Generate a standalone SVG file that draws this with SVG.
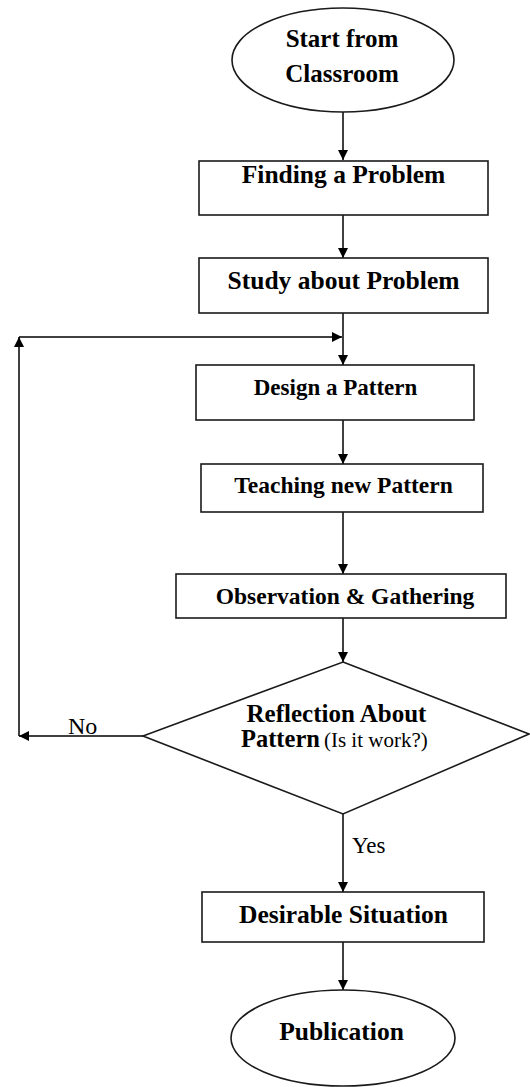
<svg xmlns="http://www.w3.org/2000/svg" width="530" height="1087" viewBox="0 0 530 1087">
  <style>
    .shape { fill: #ffffff; stroke: #1a1a1a; stroke-width: 1.6; }
    .conn { fill: none; stroke: #000000; stroke-width: 1.5; }
    .lbl { font-family: "Liberation Serif", "Times New Roman", serif; font-weight: bold; fill: #000000; text-anchor: middle; }
    .reg { font-family: "Liberation Serif", "Times New Roman", serif; font-weight: normal; fill: #000000; }
  </style>
  <defs>
    <marker id="arr" markerUnits="userSpaceOnUse" markerWidth="11" markerHeight="10" refX="10" refY="5" orient="auto">
      <path d="M0,0 L10,5 L0,10 z" fill="#000000"/>
    </marker>
  </defs>
  <rect width="530" height="1087" fill="#ffffff"/>

  <g id="connectors">
    <line class="conn" x1="343" y1="112" x2="343" y2="160" marker-end="url(#arr)"/>
    <line class="conn" x1="343" y1="215" x2="343" y2="258" marker-end="url(#arr)"/>
    <line class="conn" x1="343" y1="313" x2="343" y2="365" marker-end="url(#arr)"/>
    <line class="conn" x1="343" y1="420" x2="343" y2="464" marker-end="url(#arr)"/>
    <line class="conn" x1="343" y1="512" x2="343" y2="574" marker-end="url(#arr)"/>
    <line class="conn" x1="343" y1="618" x2="343" y2="662" marker-end="url(#arr)"/>
    <line class="conn" x1="343" y1="814" x2="343" y2="892" marker-end="url(#arr)"/>
    <line class="conn" x1="343" y1="942" x2="343" y2="990" marker-end="url(#arr)"/>
    <line class="conn" x1="143" y1="736" x2="19" y2="736" marker-end="url(#arr)"/>
    <line class="conn" x1="19" y1="736" x2="19" y2="337" marker-end="url(#arr)"/>
    <line class="conn" x1="19" y1="337" x2="342" y2="337" marker-end="url(#arr)"/>
    <text class="reg" x="68" y="734" font-size="24">No</text>
    <text class="reg" x="352" y="853" font-size="23">Yes</text>
  </g>

  <g id="start">
    <ellipse class="shape" cx="343" cy="60" rx="111" ry="52"/>
    <text class="lbl" x="342" y="47" font-size="25">Start from</text>
    <text class="lbl" x="342" y="82" font-size="25">Classroom</text>
  </g>

  <g id="finding">
    <rect class="shape" x="199" y="161" width="289" height="54"/>
    <text class="lbl" x="343.5" y="183" font-size="25.5">Finding a Problem</text>
  </g>

  <g id="study">
    <rect class="shape" x="199" y="258" width="289" height="55"/>
    <text class="lbl" x="343.5" y="289" font-size="25.5">Study about Problem</text>
  </g>

  <g id="design">
    <rect class="shape" x="196" y="365" width="278" height="55"/>
    <text class="lbl" x="335.5" y="395" font-size="23">Design a Pattern</text>
  </g>

  <g id="teaching">
    <rect class="shape" x="201" y="464" width="282" height="48"/>
    <text class="lbl" x="343.5" y="493" font-size="23.5">Teaching new Pattern</text>
  </g>

  <g id="observation">
    <rect class="shape" x="176" y="574" width="330" height="44"/>
    <text class="lbl" x="345" y="604" font-size="23.5">Observation &amp; Gathering</text>
  </g>

  <g id="reflection">
    <polygon class="shape" points="343,662 529,734 343,814 143,736"/>
    <text class="lbl" x="336.5" y="722" font-size="25">Reflection About</text>
    <text class="lbl" x="241" y="747" font-size="24.5" style="text-anchor:start">Pattern<tspan class="reg" font-size="21" dx="4">(Is it work?)</tspan></text>
  </g>

  <g id="desirable">
    <rect class="shape" x="202" y="892" width="282" height="50"/>
    <text class="lbl" x="343.5" y="923" font-size="25.5">Desirable Situation</text>
  </g>

  <g id="publication">
    <ellipse class="shape" cx="343" cy="1038" rx="112" ry="48"/>
    <text class="lbl" x="341.5" y="1040" font-size="25.5">Publication</text>
  </g>
</svg>
